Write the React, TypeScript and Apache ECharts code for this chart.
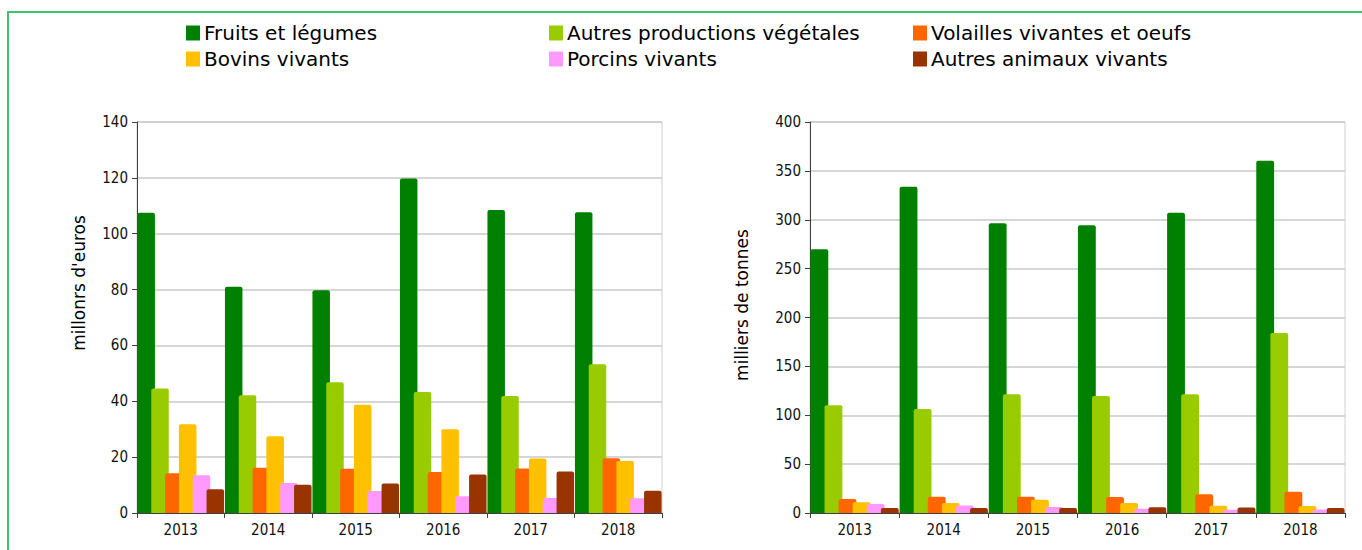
import React, { useEffect, useRef } from "react";
import * as echarts from "echarts";

const years = ["2013", "2014", "2015", "2016", "2017", "2018"];
const seriesNames = [
  "Fruits et légumes",
  "Autres productions végétales",
  "Volailles vivantes et oeufs",
  "Bovins vivants",
  "Porcins vivants",
  "Autres animaux vivants",
];
const seriesColors = ["#008000", "#99cc00", "#ff6600", "#ffc000", "#ff99ff", "#993300"];
const eurosTitle = "millonrs d'euros";
const tonnesTitle = "milliers de tonnes";

// millions d'euros
const eurosFruits = [107.5, 81, 79.8, 119.8, 108.5, 107.7];
const eurosAutresVeg = [44.6, 42.2, 46.8, 43.3, 41.9, 53.3];
const eurosVolailles = [14.2, 16.2, 15.8, 14.7, 15.9, 19.6];
const eurosBovins = [31.8, 27.5, 38.8, 30.0, 19.5, 18.6];
const eurosPorcins = [13.5, 10.7, 7.9, 6.0, 5.4, 5.3];
const eurosAutresAnim = [8.5, 10.1, 10.6, 13.8, 14.9, 8.0];

// milliers de tonnes
const tonnesFruits = [269.8, 333.8, 296.4, 294.3, 307.2, 360.4];
const tonnesAutresVeg = [110.2, 106.4, 121.4, 119.7, 121.4, 184.1];
const tonnesVolailles = [14.3, 16.5, 16.6, 16.4, 19.1, 21.8];
const tonnesBovins = [11.0, 10.2, 13.6, 10.2, 7.5, 7.2];
const tonnesPorcins = [9.2, 7.8, 6.1, 4.4, 3.4, 3.7];
const tonnesAutresAnim = [5.1, 5.1, 5.1, 5.8, 5.5, 5.1];

const eurosData = [eurosFruits, eurosAutresVeg, eurosVolailles, eurosBovins, eurosPorcins, eurosAutresAnim];
const tonnesData = [tonnesFruits, tonnesAutresVeg, tonnesVolailles, tonnesBovins, tonnesPorcins, tonnesAutresAnim];

const axisFont = "'Liberation Sans Narrow', 'DejaVu Sans Condensed', 'Liberation Sans', Arial, sans-serif";
const textFont = "'DejaVu Sans', 'Liberation Sans', Arial, sans-serif";

export default function App() {
  const ref = useRef<HTMLDivElement>(null);

  useEffect(() => {
    if (!ref.current) return;
    const chart = echarts.init(ref.current, null, { renderer: "svg" });

    const makeX = (gridIndex: number) => ({
      type: "category",
      gridIndex,
      data: years,
      axisLine: { show: true, lineStyle: { color: "#404040", width: 1 } },
      axisTick: { show: true, alignWithLabel: false, length: 5, lineStyle: { color: "#404040" } },
      axisLabel: { color: "#111", fontFamily: axisFont, fontSize: 15, margin: 9 },
    });

    const makeY = (gridIndex: number, max: number, interval: number) => ({
      type: "value",
      gridIndex,
      min: 0,
      max,
      interval,
      axisLine: { show: true, lineStyle: { color: "#404040", width: 1 } },
      axisTick: { show: true, length: 5, lineStyle: { color: "#404040" } },
      axisLabel: { color: "#111", fontFamily: axisFont, fontSize: 15, margin: 9 },
      splitLine: { show: true, lineStyle: { color: "#c8c8c8", width: 1.5 } },
    });

    const series: any[] = [];
    [eurosData, tonnesData].forEach((dataset, gi) => {
      dataset.forEach((vals, i) => {
        series.push({
          type: "bar",
          name: seriesNames[i],
          xAxisIndex: gi,
          yAxisIndex: gi,
          data: vals,
          barGap: "-21%",
          barCategoryGap: "1%",
          itemStyle: { color: seriesColors[i], borderRadius: [2, 2, 0, 0] },
        });
      });
    });

    const legendPos = [
      { left: 186, top: 23 },
      { left: 549, top: 23 },
      { left: 913, top: 23 },
      { left: 186, top: 49 },
      { left: 549, top: 49 },
      { left: 913, top: 49 },
    ];

    const legends = seriesNames.map((n, i) => ({
      data: [n],
      left: legendPos[i].left,
      top: legendPos[i].top,
      padding: 0,
      itemWidth: 14,
      itemHeight: 15,
      icon: "rect",
      itemGap: 0,
      selectedMode: false,
      textStyle: { color: "#000", fontFamily: textFont, fontSize: 20, padding: [0, 0, 0, -1] },
    }));

    chart.setOption({
      animation: false,
      backgroundColor: "#ffffff",
      legend: legends,
      grid: [
        { left: 137, top: 122, width: 525, height: 391, show: true, borderColor: "#d0d0d0", borderWidth: 1, backgroundColor: "transparent" },
        { left: 810, top: 122, width: 535, height: 391, show: true, borderColor: "#d0d0d0", borderWidth: 1, backgroundColor: "transparent" },
      ],
      xAxis: [makeX(0), makeX(1)],
      yAxis: [makeY(0, 140, 20), makeY(1, 400, 50)],
      series,
      graphic: [
        { type: "line", shape: { x1: 7, y1: 12, x2: 1362, y2: 12 }, style: { stroke: "#3ec46d", lineWidth: 2 } },
        { type: "line", shape: { x1: 8, y1: 12, x2: 8, y2: 550 }, style: { stroke: "#3ec46d", lineWidth: 2 } },
        {
          type: "text",
          x: 79,
          y: 283,
          rotation: Math.PI / 2,
          style: { text: eurosTitle, fill: "#000", font: "17px " + textFont, textAlign: "center", textVerticalAlign: "middle" },
        },
        {
          type: "text",
          x: 742,
          y: 305,
          rotation: Math.PI / 2,
          style: { text: tonnesTitle, fill: "#000", font: "17px " + textFont, textAlign: "center", textVerticalAlign: "middle" },
        },
      ],
    });

    return () => chart.dispose();
  }, []);

  return (
    <div
      ref={ref}
      style={{ position: "fixed", left: 0, top: 0, width: 1362, height: 550, background: "#fff" }}
    />
  );
}
